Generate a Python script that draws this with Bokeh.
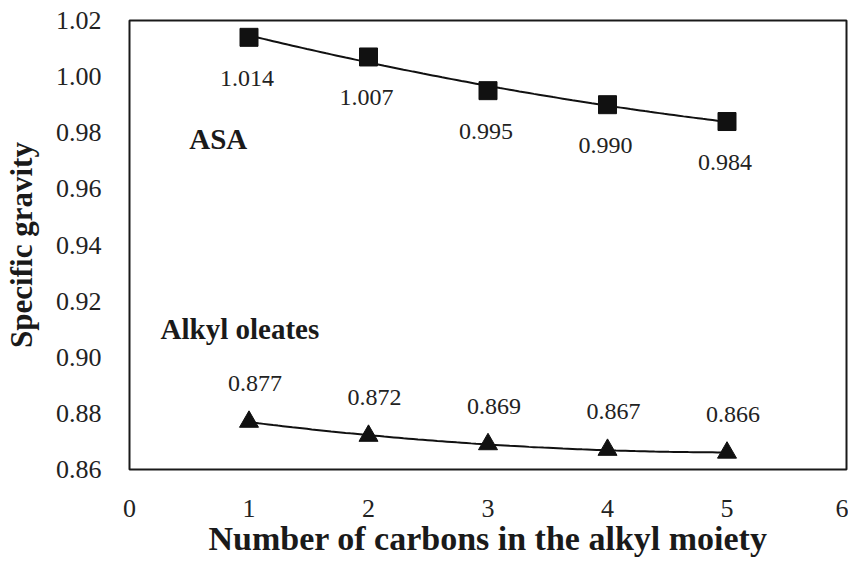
import numpy as np
from bokeh.plotting import figure
from bokeh.models import Range1d, FixedTicker, ColumnDataSource, Label
from bokeh.core.properties import value
from bokeh.embed import file_html
from bokeh.resources import INLINE

carbons = [1, 2, 3, 4, 5]
asa = [1.014, 1.007, 0.995, 0.990, 0.984]
oleates = [0.877, 0.872, 0.869, 0.867, 0.866]
asa_labels = ["1.014", "1.007", "0.995", "0.990", "0.984"]
oleate_labels = ["0.877", "0.872", "0.869", "0.867", "0.866"]
x_ticks = [0, 1, 2, 3, 4, 5, 6]
y_ticks = [0.86, 0.88, 0.90, 0.92, 0.94, 0.96, 0.98, 1.00, 1.02]

SERIF = "Liberation Serif"

p = figure(width=848, height=560, output_backend="svg", toolbar_location=None,
           x_range=Range1d(0, 6), y_range=Range1d(0.86, 1.02),
           min_border_left=123, min_border_right=2, min_border_top=20, min_border_bottom=91)

p.background_fill_color = "white"
p.border_fill_color = "white"
p.outline_line_color = "#1a1a1a"
p.outline_line_width = 2
p.xgrid.visible = False
p.ygrid.visible = False

for ax in (p.xaxis[0], p.yaxis[0]):
    ax.axis_line_color = None
    ax.major_tick_line_color = None
    ax.minor_tick_line_color = None
    ax.major_label_text_font = SERIF
    ax.major_label_text_font_size = "26px"
    ax.major_label_text_color = "#222222"
    ax.axis_label_text_font = SERIF
    ax.axis_label_text_font_style = "bold"
    ax.axis_label_text_color = "#1a1a1a"

p.xaxis.axis_label_text_font_size = "34px"
p.yaxis.axis_label_text_font_size = "31px"
p.xaxis.ticker = FixedTicker(ticks=x_ticks)
p.yaxis.ticker = FixedTicker(ticks=y_ticks)
p.yaxis.major_label_overrides = {t: f"{t:.2f}" for t in y_ticks}
p.xaxis.major_label_overrides = {t: str(t) for t in x_ticks}
p.xaxis.axis_label = "Number of carbons in the alkyl moiety"
p.yaxis.axis_label = "Specific gravity"
p.xaxis.major_label_standoff = 24
p.yaxis.major_label_standoff = 22
p.xaxis.axis_label_standoff = 0
p.yaxis.axis_label_standoff = 14

# trendlines (2nd order polynomial fits of the data)
xs = np.linspace(min(carbons), max(carbons), 100)
for series in (asa, oleates):
    coef = np.polyfit(carbons, series, 2)
    p.line(xs, np.polyval(coef, xs), line_color="#111111", line_width=2)

src_asa = ColumnDataSource(dict(x=carbons, y=asa, t=asa_labels))
src_ole = ColumnDataSource(dict(x=carbons, y=oleates, t=oleate_labels))

p.scatter("x", "y", source=src_asa, marker="square", size=18, fill_color="#111111",
          line_color="#111111")
p.scatter("x", "y", source=src_ole, marker="triangle", size=19, fill_color="#111111",
          line_color="#111111")

p.text("x", "y", text="t", source=src_asa, x_offset=-2, y_offset=41,
       text_font=value(SERIF), text_font_size="24px", text_align="center",
       text_baseline="middle", text_color="#222222")
p.text("x", "y", text="t", source=src_ole, x_offset=6, y_offset=-38,
       text_font=value(SERIF), text_font_size="24px", text_align="center",
       text_baseline="middle", text_color="#222222")

p.add_layout(Label(x=0.5, y=0.9776, text="ASA", text_font=SERIF, text_font_style="bold",
                   text_font_size="29px", text_baseline="middle", text_color="#1a1a1a"))
p.add_layout(Label(x=0.26, y=0.9099, text="Alkyl oleates", text_font=SERIF,
                   text_font_style="bold", text_font_size="29px", text_baseline="middle",
                   text_color="#1a1a1a"))

open("out.html", "w").write(file_html(p, INLINE))
